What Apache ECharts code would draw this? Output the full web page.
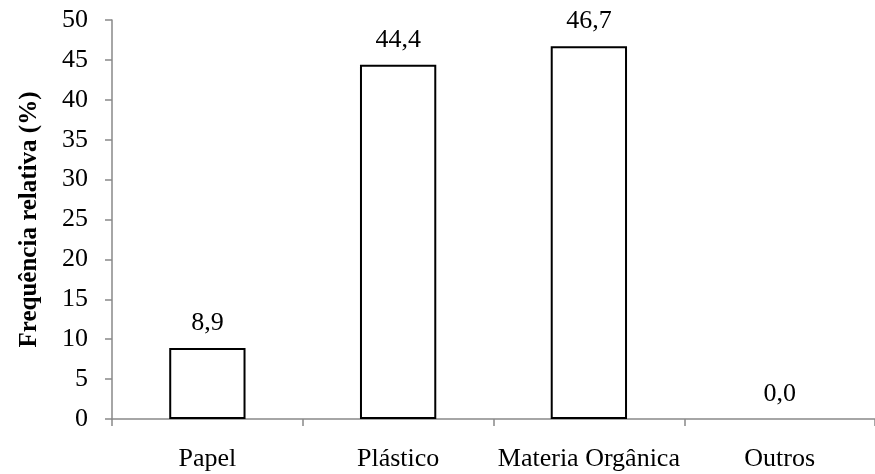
<!DOCTYPE html>
<html>
<head>
<meta charset="utf-8">
<script src="https://cdn.jsdelivr.net/npm/echarts@6/dist/echarts.min.js"></script>
<style>
  html, body { margin: 0; padding: 0; background: #fff; }
  #chart { width: 875px; height: 474px; }
</style>
</head>
<body>
<div id="chart"></div>
<script>
// Relative frequency of waste types (%)
const categories = ['Papel', 'Plástico', 'Materia Orgânica', 'Outros'];
const frequencies = [8.9, 44.4, 46.7, 0.0];
const yAxisTitle = 'Frequência relativa (%)';

const serif = '"Liberation Serif", "Times New Roman", serif';
const axisGray = '#898989';

const chart = echarts.init(document.getElementById('chart'));
chart.setOption({
  animation: false,
  backgroundColor: '#fff',
  grid: { left: 112, top: 20, width: 770, bottom: 55, containLabel: false },
  xAxis: {
    type: 'category',
    data: categories,
    axisLine: { lineStyle: { color: axisGray, width: 1.5 } },
    axisTick: { show: true, length: 7, lineStyle: { color: axisGray, width: 1.5 } },
    axisLabel: { color: '#000', fontFamily: serif, fontSize: 26, margin: 27, interval: 0, hideOverlap: false }
  },
  yAxis: {
    type: 'value',
    min: 0,
    max: 50,
    interval: 5,
    name: yAxisTitle,
    nameLocation: 'middle',
    nameGap: 70,
    nameTextStyle: { color: '#000', fontFamily: serif, fontSize: 25, fontWeight: 'bold' },
    axisLine: { show: true, lineStyle: { color: axisGray, width: 1.5 } },
    axisTick: { show: true, length: 7, lineStyle: { color: axisGray, width: 1.5 } },
    axisLabel: { color: '#000', fontFamily: serif, fontSize: 26, margin: 24 },
    splitLine: { show: false }
  },
  series: [{
    type: 'bar',
    data: frequencies.map(v => ({
      value: v,
      itemStyle: v === 0 ? { borderWidth: 0 } : undefined
    })),
    barWidth: '40%',
    itemStyle: { color: '#fff', borderColor: '#000', borderWidth: 2 },
    label: {
      show: true,
      position: 'top',
      distance: 12,
      color: '#000',
      fontFamily: serif,
      fontSize: 26,
      formatter: p => p.value.toFixed(1).replace('.', ',')
    }
  }]
});
</script>
</body>
</html>
